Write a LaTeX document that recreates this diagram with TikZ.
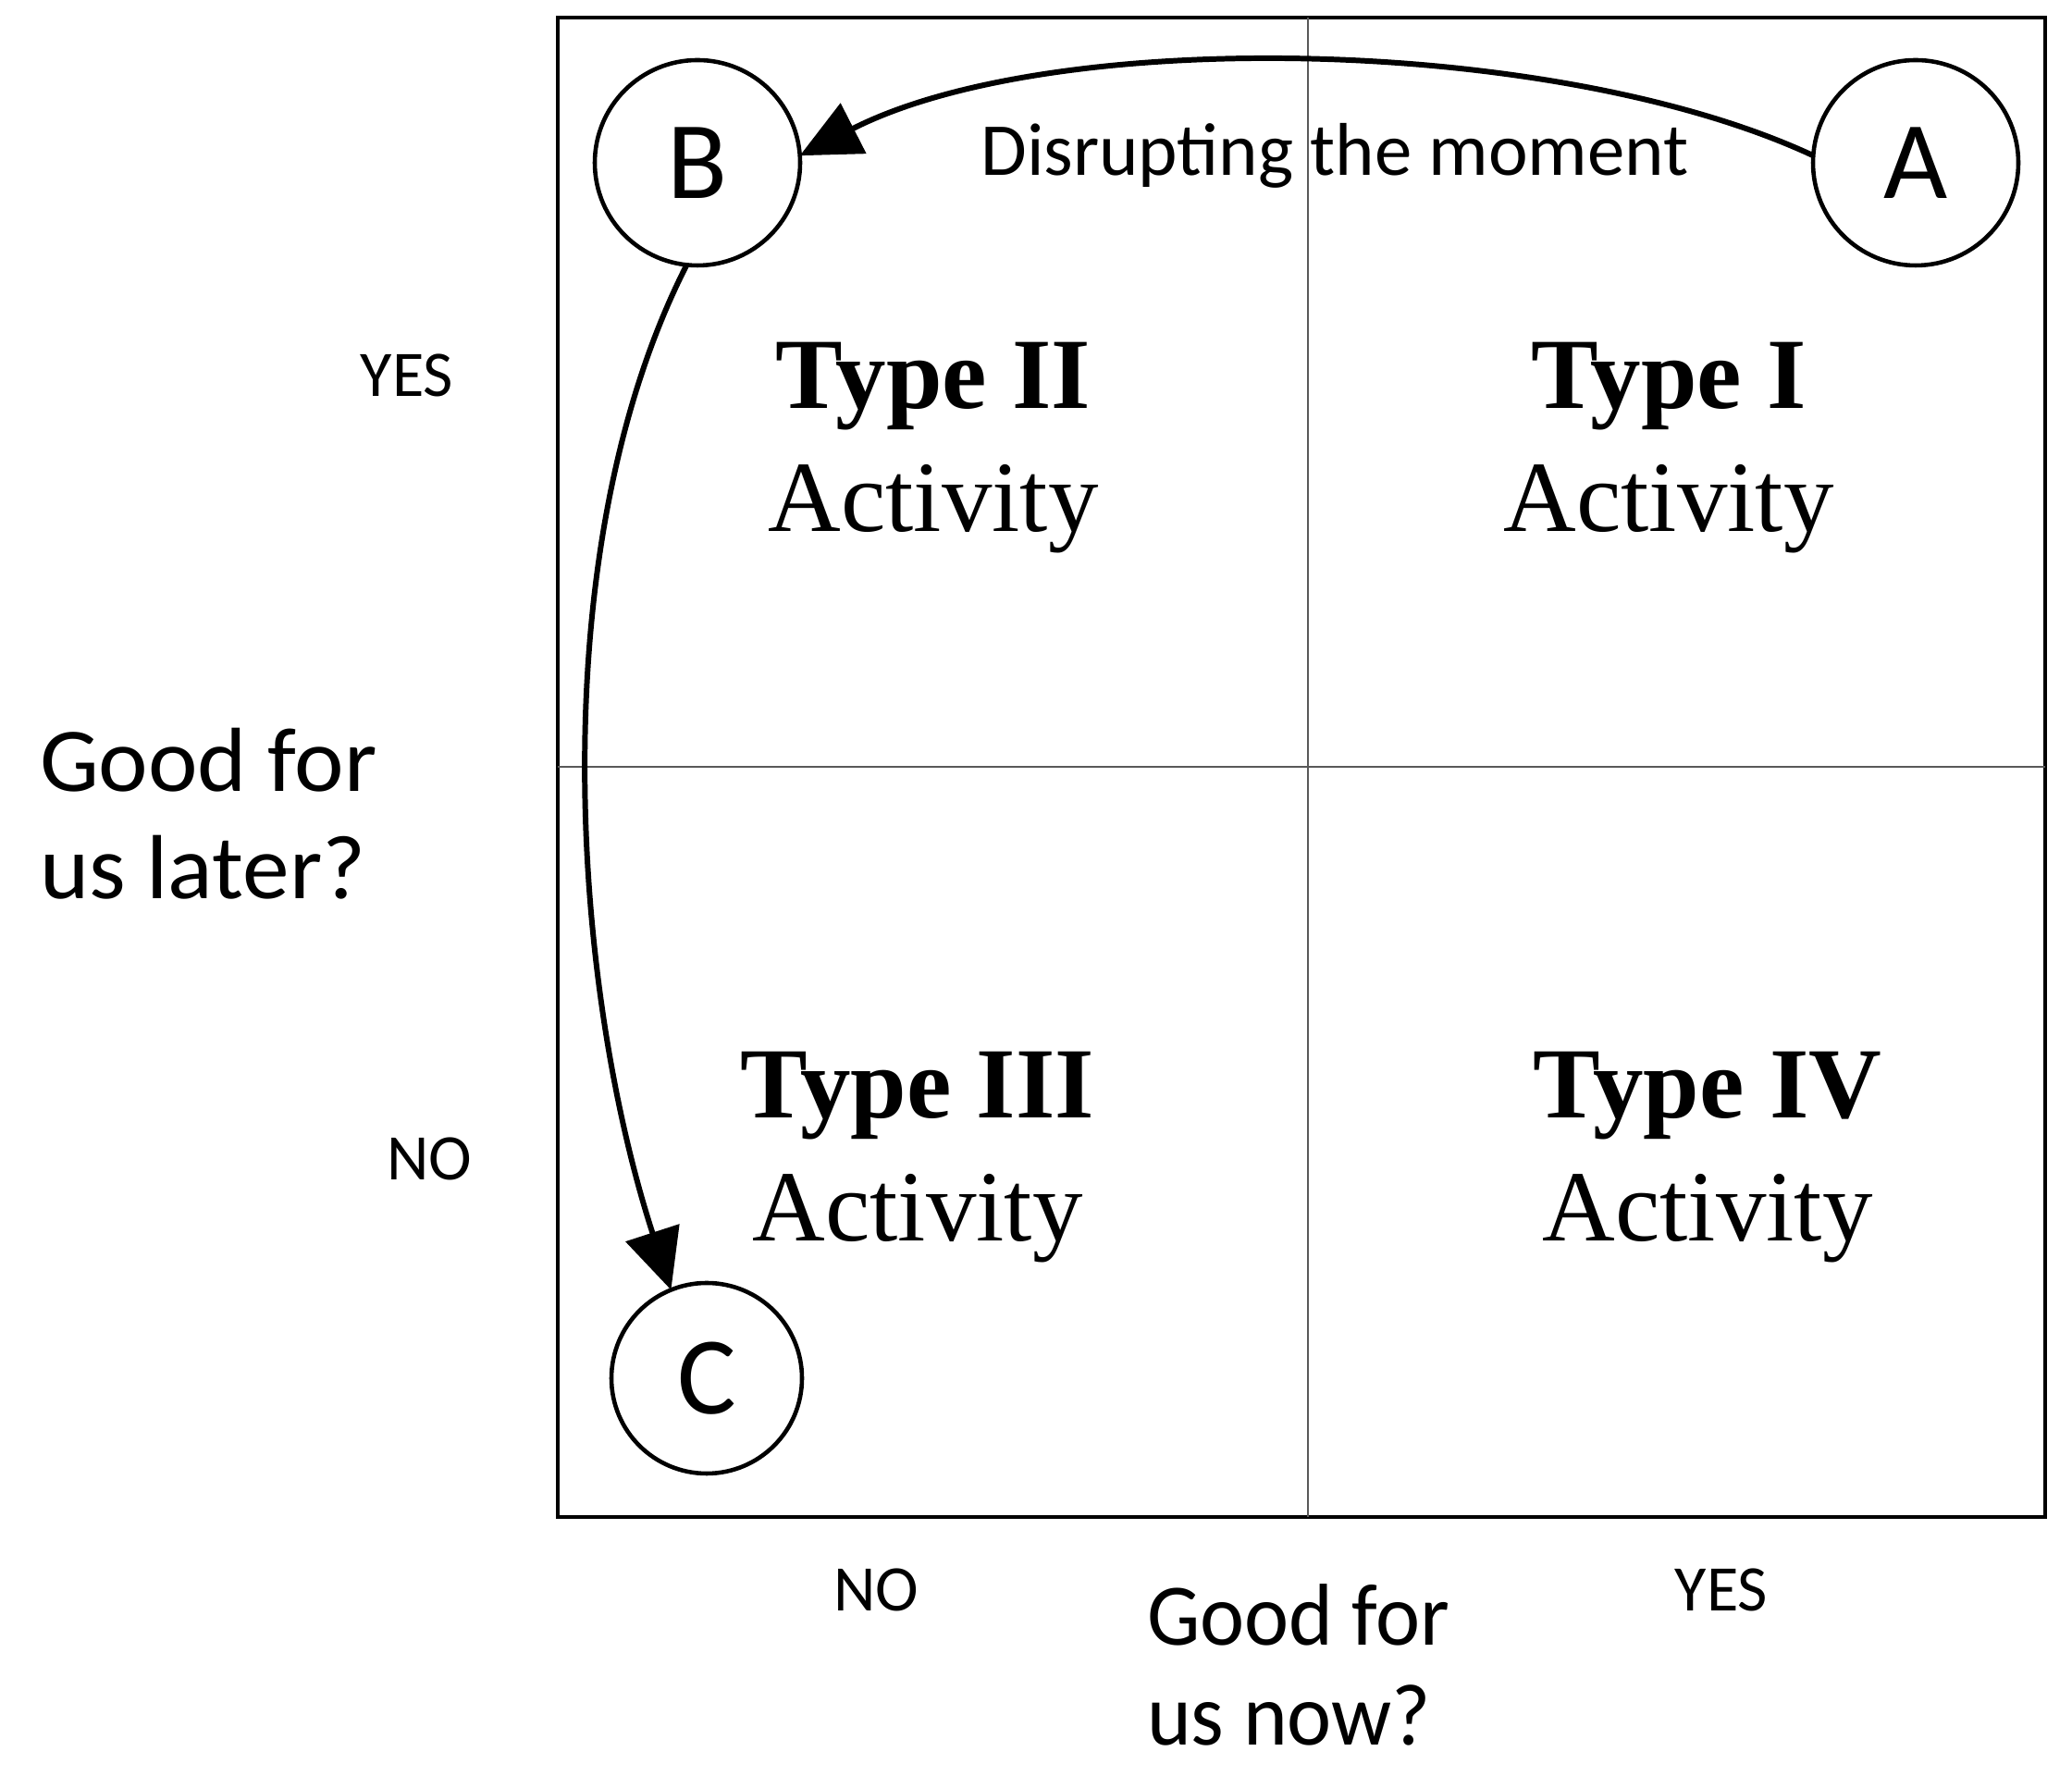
\documentclass[tikz,border=0pt]{standalone}
\usepackage{fontspec}
\setmainfont{Liberation Serif}
\setsansfont{Carlito}
\usetikzlibrary{arrows.meta}

\begin{document}
\begin{tikzpicture}[
    every node/.style={inner sep=0pt, outer sep=0pt},
    letter/.style={draw, circle, line width=1.3pt, minimum size=2.22cm, font=\sffamily\fontsize{34}{34}\selectfont},
    typelabel/.style={align=center, font=\fontsize{31}{38}\selectfont},
    axislabel/.style={align=left, font=\sffamily\fontsize{28}{33}\selectfont},
    answer/.style={font=\sffamily\fontsize{20}{20}\selectfont},
    move/.style={line width=1.7pt, -{Triangle[length=6.5mm, width=6mm]}}
  ]

    \useasboundingbox (0,0) rectangle (22.4,19.2);

    % Grid
    \draw[line width=1.3pt] (6.03,2.80) rectangle (22.11,19.01);
    \draw[gray!70!black, line width=0.6pt] (14.14,2.80) -- (14.14,19.01);
    \draw[gray!70!black, line width=0.6pt] (6.03,10.91) -- (22.11,10.91);

    % Quadrants
    \node[typelabel] (typeII) at (10.09,14.36) {\textbf{Type II}\\Activity};
    \node[typelabel] (typeI) at (18.04,14.36) {\textbf{Type I}\\Activity};
    \node[typelabel] (typeIII) at (9.92,6.69) {\textbf{Type III}\\Activity};
    \node[typelabel] (typeIV) at (18.46,6.69) {\textbf{Type IV}\\Activity};

    % Circles
    \node[letter, fill=white] (B) at (7.54,17.44) {B};
    \node[letter, fill=white] (A) at (20.71,17.44) {A};
    \node[letter, fill=white, minimum size=2.06cm] (C) at (7.64,4.30) {C};

    % Moves
    \node[font=\sffamily\fontsize{23}{23}\selectfont] (disrupt) at (14.43,17.52) {Disrupting the moment};
    \draw[move] (A.176) to[out=155, in=27, looseness=0.72] (B.4);
    \draw[move] (B.264) to[out=243, in=108, looseness=0.8] (C.112);

    % Axis answers
    \node[answer] (yesleft) at (4.40,15.14) {YES};
    \node[answer] (noleft) at (4.64,6.67) {NO};
    \node[answer] (nobottom) at (9.47,2.01) {NO};
    \node[answer] (yesbottom) at (18.61,2.01) {YES};

    % Axis titles
    \node[axislabel, anchor=west, xscale=1.03] (later) at (0.43,10.40) {Good for\\us later?};
    \node[axislabel, anchor=west, xscale=0.96, font=\sffamily\fontsize{27}{30.5}\selectfont] (now) at (12.40,1.20) {Good for\\us now?};

\end{tikzpicture}
\end{document}
